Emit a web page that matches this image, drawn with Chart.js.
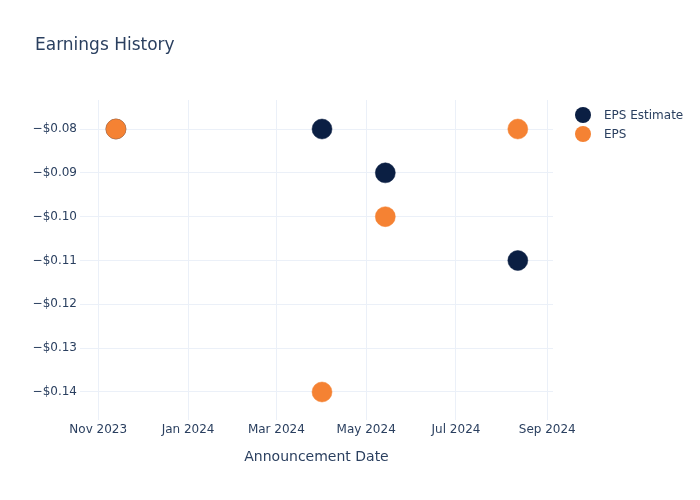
<!DOCTYPE html>
<html>
<head>
<meta charset="utf-8">
<script src="https://cdn.jsdelivr.net/npm/chart.js@4.4.1/dist/chart.umd.min.js"></script>
<style>
  html, body { margin: 0; padding: 0; background: #fff; }
  #wrap { position: relative; width: 700px; height: 500px; font-family: "DejaVu Sans", sans-serif; color: #2a3f5f; }
  #c { position: absolute; left: 0; top: 0; }
  #title { position: absolute; left: 35px; top: 34px; font-size: 17px; line-height: 20px; white-space: nowrap; }
  .leg { position: absolute; left: 575px; font-size: 12px; line-height: 16px; white-space: nowrap; display: flex; align-items: center; }
  .leg span.dot { display: inline-block; width: 16px; height: 16px; border-radius: 50%; margin-right: 13px; }
</style>
</head>
<body>
<div id="wrap">
  <canvas id="c" width="700" height="500"></canvas>
  <div id="title">Earnings History</div>
  <div class="leg" id="leg0" style="top:107px;"><span class="dot" id="dot0"></span><span id="lab0"></span></div>
  <div class="leg" id="leg1" style="top:126px;"><span class="dot" id="dot1"></span><span id="lab1"></span></div>
</div>
<script>
// ---- data ----
const seriesNames = ["EPS Estimate", "EPS"];
const announcementDates = ["2023-11-13", "2024-04-01", "2024-05-14", "2024-08-12"];
const epsEstimate = [-0.08, -0.08, -0.09, -0.11];
const epsActual = [-0.08, -0.14, -0.10, -0.08];
const xTickDates = ["2023-11-01", "2024-01-01", "2024-03-01", "2024-05-01", "2024-07-01", "2024-09-01"];
const xTickLabels = ["Nov 2023", "Jan 2024", "Mar 2024", "May 2024", "Jul 2024", "Sep 2024"];
const yTickValues = [-0.08, -0.09, -0.10, -0.11, -0.12, -0.13, -0.14];
const yTickLabels = ["\u2212$0.08", "\u2212$0.09", "\u2212$0.10", "\u2212$0.11", "\u2212$0.12", "\u2212$0.13", "\u2212$0.14"];

const colors = ["#0b1f43", "#f58233"];
const toTs = s => { const [y, m, d] = s.split("-").map(Number); return Date.UTC(y, m - 1, d); };
const DAY = 86400000;

document.getElementById("dot0").style.background = colors[0];
document.getElementById("dot1").style.background = colors[1];
document.getElementById("lab0").textContent = seriesNames[0];
document.getElementById("lab1").textContent = seriesNames[1];

const xTs = xTickDates.map(toTs);
const mk = vals => announcementDates.map((d, i) => ({ x: toTs(d), y: vals[i] }));

const FONT = "'DejaVu Sans', sans-serif";
const TXT = "#2a3f5f";
const GRID = "#ebf0f8";

new Chart(document.getElementById("c"), {
  type: "scatter",
  data: {
    datasets: [
      { label: seriesNames[0], data: mk(epsEstimate), backgroundColor: colors[0], borderColor: colors[0], borderWidth: 0.5, pointRadius: 10, order: 1 },
      { label: seriesNames[1], data: mk(epsActual), backgroundColor: colors[1], borderColor: colors[1], borderWidth: 0.5, pointRadius: 10, order: 0 }
    ]
  },
  options: {
    responsive: false,
    animation: false,
    events: [],
    layout: { padding: { left: 0, right: 147, top: 100, bottom: 0 } },
    plugins: { legend: { display: false }, tooltip: { enabled: false }, title: { display: false } },
    scales: {
      x: {
        type: "linear",
        min: toTs("2023-11-01") - 12.4 * DAY,
        max: toTs("2024-09-01") + 3.9 * DAY,
        afterFit: s => { s.height = 80; },
        afterBuildTicks: s => { s.ticks = xTs.map(v => ({ value: v })); },
        ticks: {
          autoSkip: false, maxRotation: 0, padding: 3,
          color: TXT, font: { family: FONT, size: 12 },
          callback: (v) => { const i = xTs.indexOf(v); return i >= 0 ? xTickLabels[i] : ""; }
        },
        grid: { color: GRID, lineWidth: 1, drawTicks: false },
        border: { display: false },
        title: { display: true, text: "Announcement Date", color: TXT, font: { family: FONT, size: 14 }, padding: { top: 0, bottom: 34 } }
      },
      y: {
        type: "linear",
        min: -0.14639,
        max: -0.07338,
        afterFit: s => { s.width = 80; },
        afterBuildTicks: s => { s.ticks = yTickValues.map(v => ({ value: v })); },
        ticks: {
          autoSkip: false, padding: 3,
          color: TXT, font: { family: FONT, size: 12 },
          callback: (v) => { const i = yTickValues.findIndex(t => Math.abs(t - v) < 1e-9); return i >= 0 ? yTickLabels[i] : ""; }
        },
        grid: { color: GRID, lineWidth: 1, drawTicks: false },
        border: { display: false }
      }
    }
  }
});
</script>
</body>
</html>
